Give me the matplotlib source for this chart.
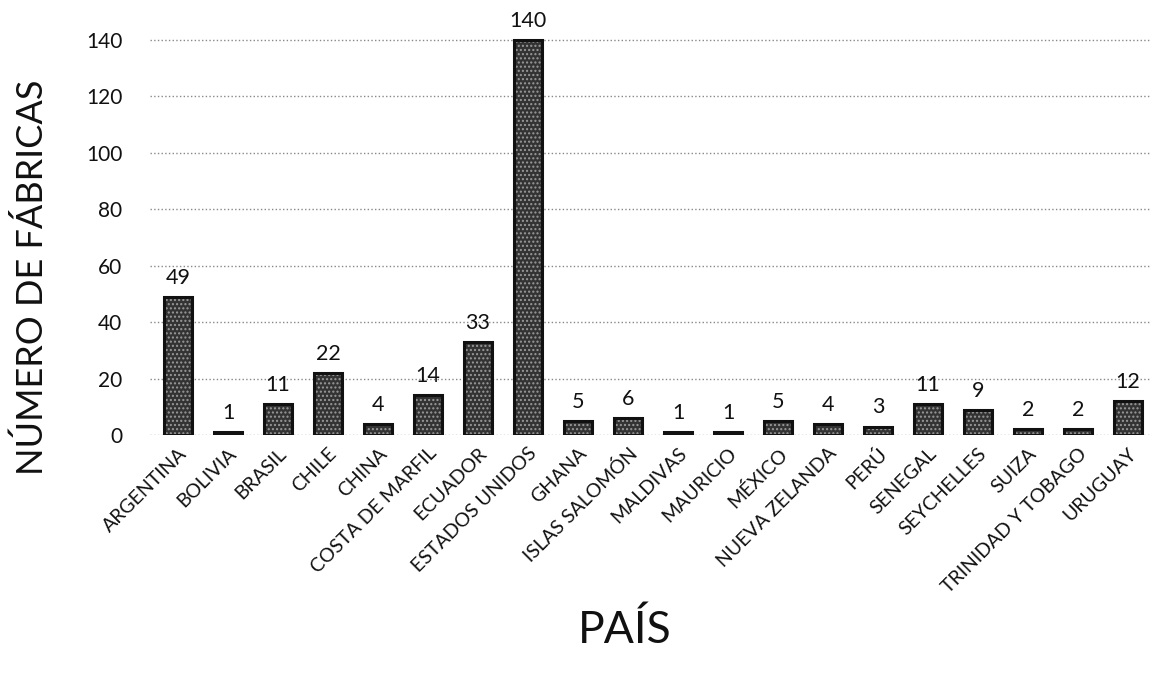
import numpy as np
import matplotlib.pyplot as plt

# DATOS

paises = [
    "ARGENTINA", "BOLIVIA", "BRASIL", "CHILE", "CHINA", "COSTA DE MARFIL",
    "ECUADOR", "ESTADOS UNIDOS", "GHANA", "ISLAS SALOMÓN", "MALDIVAS",
    "MAURICIO", "MÉXICO", "NUEVA ZELANDA", "PERÚ", "SENEGAL", "SEYCHELLES",
    "SUIZA", "TRINIDAD Y TOBAGO", "URUGUAY"
]

fabricas = [49, 1, 11, 22, 4, 14, 33, 140, 5, 6, 1, 1, 5, 4, 3, 11, 9, 2, 2, 12]

y_ticks = [0, 20, 40, 60, 80, 100, 120, 140]

# GRAFICA

plt.rcParams['font.family'] = ['Lato', 'DejaVu Sans']
plt.rcParams['hatch.linewidth'] = 1.0

fig = plt.figure(figsize=(11.53, 6.73), dpi=100)

n = len(paises)
x = np.arange(n)

# posicion de los ejes en pixeles
left_px, right_px = 150, 1150
bottom_px, top_px = 435, 34
ax = fig.add_axes([left_px / 1153, (673 - bottom_px) / 673,
                   (right_px - left_px) / 1153, (bottom_px - top_px) / 673])

# relleno con textura (gris oscuro con puntos claros)
ax.bar(
    x,
    fabricas,
    width=0.56,
    color='#333333',
    edgecolor='#9a9a9a',
    linewidth=0,
    hatch='....',
    zorder=3
)

# contorno
ax.bar(
    x,
    fabricas,
    width=0.56,
    fill=False,
    edgecolor='#111111',
    linewidth=2.2,
    zorder=4
)

for xi, v in zip(x, fabricas):
    ax.text(xi, v + 3.2, str(v), ha='center', va='bottom',
            fontsize=15.5, color='#111111')

ax.set_xlim(-0.56, n - 1 + 0.44)
ax.set_ylim(0, 142)
ax.set_yticks(y_ticks)
ax.tick_params(axis='y', length=0, labelsize=15, pad=20, colors='#111111')
ax.set_xticks(x)
ax.set_xticklabels(paises, rotation=45, ha='right', rotation_mode='anchor',
                   fontsize=14, color='#111111')
ax.tick_params(axis='x', length=0, pad=7)

ax.grid(axis='y', linestyle=':', color='#888888', linewidth=1, zorder=0)

for s in ax.spines.values():
    s.set_visible(False)

fig.text(32 / 1153, 1 - 277 / 673, "NÚMERO DE FÁBRICAS", rotation=90,
         ha='center', va='center', fontsize=26, color='#111111')
fig.text(625 / 1153, 1 - 630 / 673, "PAÍS", ha='center', va='center',
         fontsize=32, color='#111111')

plt.savefig("out.png", dpi=100)
